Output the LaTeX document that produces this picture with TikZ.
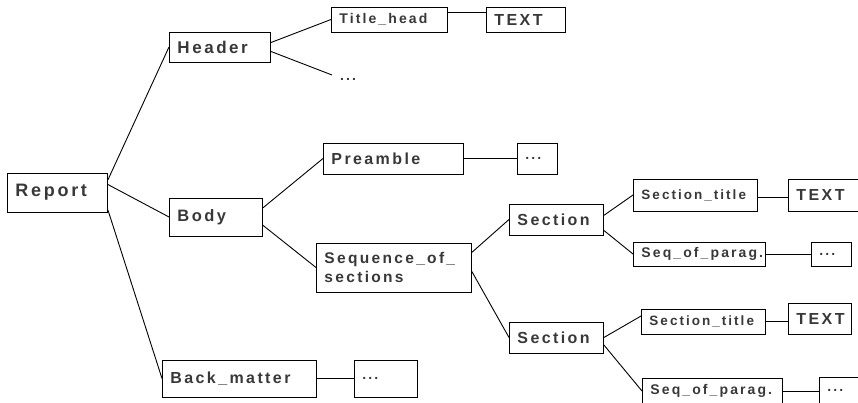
\documentclass[tikz,border=0pt]{standalone}
\usepackage{fontspec}
\setmainfont{Liberation Sans}
\newfontfamily\boxfont[LetterSpace=15]{Liberation Sans}
\usepackage{tikz}
\definecolor{ink}{HTML}{383838}
\hyphenpenalty=10000
\exhyphenpenalty=10000

\begin{document}
\begin{tikzpicture}[x=1pt,y=-1pt,line width=0.9pt,
  box/.style={draw,anchor=west,inner xsep=8pt,inner ysep=0pt,align=left,text=ink,font=\boxfont\bfseries\fontsize{14}{17}\selectfont},
  huge/.style={font=\boxfont\bfseries\fontsize{18}{20}\selectfont},
  big/.style={font=\boxfont\bfseries\fontsize{16}{19}\selectfont},
  small/.style={font=\boxfont\bfseries\fontsize{13.5}{17}\selectfont}]
\useasboundingbox (0,0) rectangle (858,403);
\node[box,huge,text width=84pt,minimum height=39pt] (report) at (7,192.5) {Report};
\node[box,font=\boxfont\bfseries\fontsize{17}{19}\selectfont,text width=85pt,minimum height=30pt] (header) at (169,47) {Header};
\node[box,text width=100pt,minimum height=25pt] (titlehead) at (331,19.5) {Title\_head};
\node[box,big,text width=63pt,minimum height=25pt] (toptext) at (486,19.5) {TEXT};
\node[text=ink,font=\boxfont\bfseries\fontsize{14}{17}\selectfont] (hdots) at (348,79) {...};
\coordinate (hend) at (332,75);
\node[box,font=\boxfont\bfseries\fontsize{16.5}{19}\selectfont,text width=77pt,minimum height=38pt] (body) at (169,217) {Body};
\node[box,big,text width=124pt,minimum height=31pt] (preamble) at (323,158.5) {Preamble};
\node[box,text width=24pt,minimum height=31pt] (predots) at (517,158.5) {...};
\node[box,font=\boxfont\bfseries\fontsize{15.5}{19}\selectfont,text width=139pt,minimum height=49pt] (seq) at (316,267.5) {Sequence\_of\_\\sections};
\node[box,big,text width=138pt,minimum height=37pt] (backmatter) at (162,378.5) {Back\_matter};
\node[box,text width=47pt,minimum height=37pt] (backdots) at (354,378.5) {...};
\node[box,big,text width=78pt,minimum height=31pt] (sectionA) at (509,219.5) {Section};
\node[box,big,text width=78pt,minimum height=31pt] (sectionB) at (509,337.5) {Section};
\node[box,small,text width=108pt,minimum height=32pt] (titleA) at (633,195) {Section\_title};
\node[box,big,text width=59pt,minimum height=32pt] (textA) at (788,195) {TEXT};
\node[box,text width=116pt,minimum height=24pt] (paragA) at (633,254) {Seq\_of\_parag.};
\node[box,text width=24pt,minimum height=24pt] (dotsA) at (811,254) {...};
\node[box,small,text width=108pt,minimum height=25pt] (titleB) at (641,321.5) {Section\_title};
\node[box,big,text width=47pt,minimum height=31pt] (textB) at (788,318.5) {TEXT};
\node[box,text width=124pt,minimum height=26pt] (paragB) at (642,391) {Seq\_of\_parag.};
\node[box,text width=26pt,minimum height=27pt] (dotsB) at (819,390.5) {...};
\draw (report.14) -- (header.west);
\draw (report.9) -- (body.west);
\draw (report.-19) -- (backmatter.west);
\draw (header.5) -- (titlehead.west);
\draw (header.-5) -- (hend);
\draw ([yshift=7pt]titlehead.east) -- ([yshift=7pt]titlehead.east -| toptext.west);
\draw (body.11) -- (preamble.west);
\draw (body.-10) -- (seq.west);
\draw (preamble.east) -- (preamble.east -| predots.west);
\draw (backmatter.east) -- (backmatter.east -| backdots.west);
\draw (seq.11) -- (sectionA.west);
\draw (seq.-3) -- (sectionB.west);
\draw (sectionA.5) -- (titleA.west);
\draw (sectionA.-13) -- (paragA.west);
\draw (sectionB.east) -- (titleB.175);
\draw (sectionB.-9) -- (paragB.west);
\draw ([yshift=-2pt]titleA.east) -- ([yshift=-2pt]titleA.east -| textA.west);
\draw (paragA.east) -- (paragA.east -| dotsA.west);
\draw (titleB.east) -- (titleB.east -| textB.west);
\draw (paragB.east) -- (paragB.east -| dotsB.west);
\end{tikzpicture}
\end{document}
